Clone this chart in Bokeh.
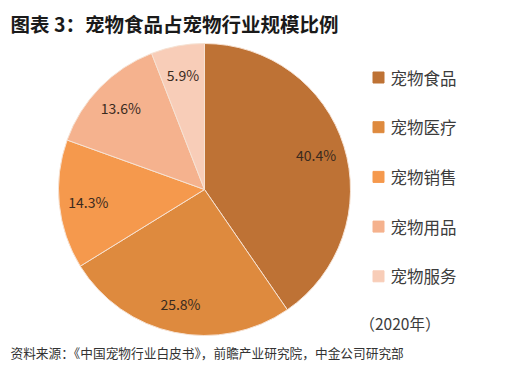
import math
from bokeh.plotting import figure
from bokeh.models import ColumnDataSource, Range1d
from bokeh.core.properties import value
from bokeh.embed import file_html
from bokeh.resources import INLINE

# ---- data ----
categories = ["宠物食品", "宠物医疗", "宠物销售", "宠物用品", "宠物服务"]
shares = [40.4, 25.8, 14.3, 13.6, 5.9]
labels = ["40.4%", "25.8%", "14.3%", "13.6%", "5.9%"]
colors = ["#BE7235", "#DE8A3E", "#F5994D", "#F5B28E", "#F8CDB8"]
title_text = "图表 3：宠物食品占宠物行业规模比例"
year_text = "（2020年）"
source_text = "资料来源：《中国宠物行业白皮书》，前瞻产业研究院，中金公司研究部"

W, H = 506, 364
FONT = "Noto Sans CJK SC"
OFF = 0

def px(X):
    return X - OFF

def py(Y):
    return H - (Y - OFF)

p = figure(width=W, height=H, output_backend="svg", toolbar_location=None,
           x_range=Range1d(0, W), y_range=Range1d(0, H), min_border=0,
           background_fill_color="white", border_fill_color="white")
p.axis.visible = False
p.grid.visible = False
p.outline_line_color = None

# pie geometry
cx, cy, R = px(204), py(189), 146
total = sum(shares)
starts, ends, lx, ly = [], [], [], []
cum = 0.0
for s in shares:
    a0 = math.pi / 2 - 2 * math.pi * (cum + s) / total
    a1 = math.pi / 2 - 2 * math.pi * cum / total
    starts.append(a0)
    ends.append(a1)
    mid = (a0 + a1) / 2
    lx.append(cx + 0.80 * R * math.cos(mid))
    ly.append(cy + 0.80 * R * math.sin(mid))
    cum += s

src = ColumnDataSource(dict(start=starts, end=ends, color=colors, lx=lx, ly=ly, label=labels))
p.wedge(x=cx, y=cy, radius=R, start_angle="start", end_angle="end", color="color",
        line_color="#F6E2D3", line_width=1, source=src)
p.text(x="lx", y="ly", text="label", source=src, text_font=value(FONT),
       text_font_size="14px", text_color="#3A2A1E", text_align="center",
       text_baseline="middle")

# legend
n = len(categories)
leg_y = [py(77 + 49.7 * i) for i in range(n)]
leg = ColumnDataSource(dict(y=leg_y, color=colors, name=categories,
                            sx=[px(378)] * n, tx=[px(390)] * n))
p.rect(x="sx", y="y", width=11, height=11, color="color", source=leg)
p.text(x="tx", y="y", text="name", source=leg, text_font=value(FONT),
       text_font_size="16.5px", text_color="#3C3C3C", text_baseline="middle")

# year note
p.text(x=[px(359)], y=[py(322)], text=[year_text], text_font=value(FONT),
       text_font_size="15.5px", text_color="#3C3C3C", text_baseline="middle")

# title
p.text(x=[px(10)], y=[py(23)], text=[title_text], text_font=value(FONT),
       text_font_size="19.5px", text_font_style="bold", text_color="#1A1A1A",
       text_baseline="middle")

# source
p.text(x=[px(10)], y=[py(352)], text=[source_text], text_font=value(FONT),
       text_font_size="12.7px", text_color="#333333", text_baseline="middle")

open("out.html", "w").write(file_html(p, INLINE))
